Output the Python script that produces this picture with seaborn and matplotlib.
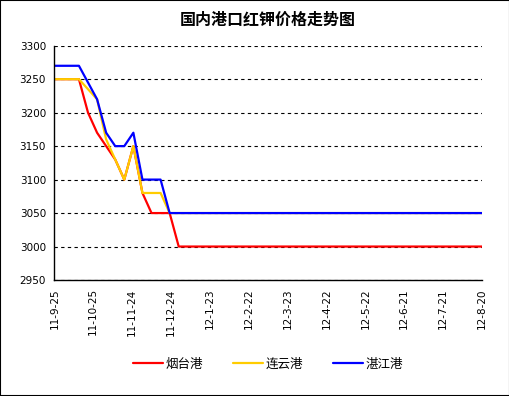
import pandas as pd
import seaborn as sns
import matplotlib.pyplot as plt
from matplotlib.patches import Rectangle

# weekly quotes (only the change points; flat afterwards until the last date)
dates = ['2011-09-25', '2011-10-14', '2011-10-21', '2011-10-28', '2011-11-04',
         '2011-11-11', '2011-11-18', '2011-11-25', '2011-12-02', '2011-12-09',
         '2011-12-16', '2011-12-23', '2011-12-30', '2012-08-20']
yantai = [3250, 3250, 3200, 3170, 3150, 3130, 3100, 3150, 3080, 3050, 3050, 3050, 3000, 3000]
lianyungang = [3250, 3250, 3235, 3220, 3160, 3130, 3100, 3150, 3080, 3080, 3080, 3050, 3050, 3050]
zhanjiang = [3270, 3270, 3245, 3220, 3170, 3150, 3150, 3170, 3100, 3100, 3100, 3050, 3050, 3050]

ports = ['烟台港', '连云港', '湛江港']
colors = ['#FF0000', '#FFCC00', '#0000FF']

tick_labels = ['11-9-25', '11-10-25', '11-11-24', '11-12-24', '12-1-23', '12-2-22',
               '12-3-23', '12-4-22', '12-5-22', '12-6-21', '12-7-21', '12-8-20']
y_ticks = [2950, 3000, 3050, 3100, 3150, 3200, 3250, 3300]

df = pd.DataFrame({'date': pd.to_datetime(dates),
                   ports[0]: yantai, ports[1]: lianyungang, ports[2]: zhanjiang})

sns.set_style('white')
plt.rcParams['font.family'] = ['DejaVu Sans', 'Noto Sans CJK SC']
plt.rcParams['text.color'] = 'black'
plt.rcParams['xtick.color'] = 'black'
plt.rcParams['ytick.color'] = 'black'

fig = plt.figure(figsize=(5.1, 3.96), dpi=100)
ax = fig.add_axes([0.1065, 0.2929, 0.8385, 0.5917])

for port, c in zip(ports, colors):
    sns.lineplot(x='date', y=port, data=df, color=c, linewidth=1.6, label=port, ax=ax)

tick_dates = pd.date_range('2011-09-25', periods=len(tick_labels), freq='30D')
ax.set_xlim(tick_dates[0], tick_dates[-1])
ax.set_xticks(tick_dates)
ax.set_xticklabels(tick_labels, rotation=90, fontsize=7.5)
ax.set_ylim(2950, 3300)
ax.set_yticks(y_ticks)
ax.set_yticklabels([str(v) for v in y_ticks], fontsize=7.5)
ax.set_xlabel('')
ax.set_ylabel('')

ax.yaxis.grid(True, color='black', linestyle=(0, (3, 3)), linewidth=0.8)
ax.set_axisbelow(True)
for s in ['top', 'right']:
    ax.spines[s].set_visible(False)
for s in ['left', 'bottom']:
    ax.spines[s].set_color('black')
    ax.spines[s].set_linewidth(1.0)
ax.tick_params(axis='both', direction='out', length=4, width=1, color='black',
               labelcolor='black', pad=2)

ax.set_title('国内港口红钾价格走势图', fontsize=11.5, fontweight='bold', color='black',
             family=['Noto Sans CJK SC'], pad=15)

ax.legend(loc='center', bbox_to_anchor=(0.5, -0.36), ncol=3, frameon=False,
          prop={'family': ['Noto Sans CJK SC'], 'size': 9},
          handlelength=2.4, handletextpad=0.2, columnspacing=2.4)

fig.patches.append(Rectangle((0, 0), 1, 1, transform=fig.transFigure,
                             fill=False, edgecolor='black', linewidth=1.5))

fig.savefig('out.png', dpi=100)
